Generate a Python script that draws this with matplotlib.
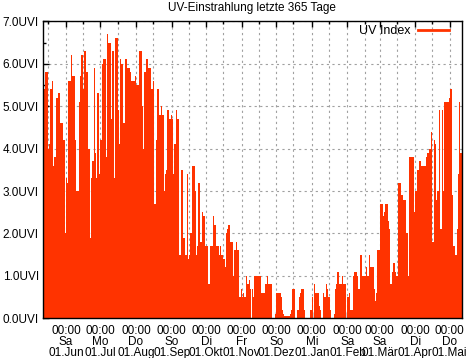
import datetime as dt
import matplotlib
matplotlib.use("Agg")
import matplotlib.pyplot as plt
import matplotlib.dates as mdates
from matplotlib.ticker import MultipleLocator
from matplotlib.lines import Line2D

# daily UV index, 12.05.2024 .. 11.05.2025
uv = [
    0.8, 5.4, 5.8, 5.8, 4.0, 4.1, 5.4, 5.4, 5.6, 3.6, 3.8, 5.2, 5.2, 5.3, 5.3, 4.6, 4.6, 4.2, 4.2, 2.0,
    3.3, 3.2, 5.6, 5.6, 6.2, 5.7, 5.7, 5.7, 4.2, 3.0, 3.0, 5.1, 5.7, 6.2, 6.2, 5.4, 6.3, 5.8, 5.8, 4.0,
    4.0, 1.9, 3.3, 3.7, 5.9, 3.9, 3.3, 5.3, 5.3, 3.4, 4.2, 6.0, 6.1, 6.1, 6.1, 3.8, 6.7, 6.5, 6.5, 4.7,
    6.3, 6.3, 3.3, 6.6, 6.6, 4.9, 4.1, 6.1, 6.0, 6.0, 4.6, 6.1, 6.1, 5.9, 5.9, 5.9, 5.8, 5.6, 5.6, 5.6,
    5.7, 5.5, 5.5, 5.5, 6.3, 6.3, 5.0, 4.0, 5.8, 5.8, 6.1, 5.9, 5.9, 5.9, 5.4, 5.4, 5.6, 2.7, 4.2, 5.4,
    5.4, 4.8, 4.8, 5.0, 4.8, 3.0, 3.4, 3.5, 4.9, 4.9, 4.7, 4.8, 4.7, 3.4, 4.1, 4.1, 4.9, 4.7, 1.5, 1.5,
    3.5, 3.5, 1.9, 1.9, 1.5, 3.4, 1.4, 1.5, 2.0, 2.0, 3.6, 3.6, 3.0, 1.5, 1.7, 3.2, 3.2, 1.8, 2.5, 2.4,
    2.4, 1.7, 1.7, 1.7, 0.8, 1.7, 1.7, 1.7, 2.4, 2.2, 2.2, 1.7, 1.7, 1.5, 1.7, 1.5, 1.5, 1.4, 1.2, 2.0,
    2.1, 2.2, 2.2, 1.8, 1.8, 1.0, 1.6, 1.6, 1.8, 1.6, 1.6, 0.5, 0.7, 0.5, 0.6, 0.5, 0.5, 1.0, 0.8, 0.9,
    0.7, 0.0, 0.7, 0.5, 1.0, 1.0, 1.0, 1.0, 1.0, 1.0, 0.6, 0.6, 0.6, 0.8, 0.8, 1.0, 0.8, 0.8, 0.8, 0.0,
    0.0, 0.0, 0.1, 0.6, 0.6, 0.6, 0.6, 0.5, 0.2, 0.1, 0.05, 0.05, 0.05, 0.05, 0.05, 0.1, 0.2, 0.7, 0.7, 0.0,
    0.0, 0.2, 0.2, 0.5, 0.6, 0.7, 0.7, 0.2, 0.0, 0.0, 0.0, 0.0, 0.2, 0.2, 0.5, 0.0, 0.8, 0.6, 0.6, 0.6,
    0.3, 0.2, 0.0, 0.0, 0.6, 0.5, 0.8, 0.7, 0.5, 0.5, 0.2, 0.0, 0.0, 0.1, 0.7, 0.8, 1.1, 1.1, 0.8, 0.8,
    1.0, 0.8, 0.8, 0.8, 0.0, 0.5, 0.6, 0.2, 0.2, 0.2, 1.0, 1.1, 1.1, 1.0, 0.7, 0.7, 1.5, 1.5, 1.0, 1.0,
    1.0, 1.2, 1.0, 1.0, 1.5, 1.2, 1.2, 1.2, 0.7, 0.4, 0.6, 1.6, 1.6, 2.7, 2.7, 2.7, 2.4, 2.5, 2.7, 2.7,
    2.3, 2.1, 0.8, 0.8, 1.1, 1.3, 1.1, 1.0, 1.0, 3.2, 3.2, 3.2, 2.9, 2.8, 2.8, 2.8, 2.0, 2.0, 1.0, 3.8,
    3.8, 3.8, 3.8, 2.5, 3.0, 3.0, 3.5, 3.7, 3.7, 3.6, 3.6, 3.6, 3.6, 3.8, 3.9, 3.9, 4.0, 4.0, 4.4, 1.8,
    4.2, 4.1, 2.8, 3.0, 3.0, 4.9, 2.1, 4.9, 3.0, 5.1, 5.1, 5.1, 5.1, 5.2, 5.4, 5.4, 2.9, 1.7, 1.7, 1.5,
    2.1, 3.4, 5.1, 3.9, 3.9,
]
start = dt.datetime(2024, 5, 12)
days = [start + dt.timedelta(days=i, hours=12) for i in range(len(uv))]

month_ticks = [dt.datetime(2024, m, 1) for m in range(6, 13)] + [dt.datetime(2025, m, 1) for m in range(1, 6)]
tick_labels = ["00:00\nSa\n01.Jun", "00:00\nMo\n01.Jul", "00:00\nDo\n01.Aug", "00:00\nSo\n01.Sep",
               "00:00\nDi\n01.Okt", "00:00\nFr\n01.Nov", "00:00\nSo\n01.Dez", "00:00\nMi\n01.Jan",
               "00:00\nSa\n01.Feb", "00:00\nSa\n01.Mär", "00:00\nDi\n01.Apr", "00:00\nDo\n01.Mai"]
mid_ticks = [dt.datetime(2024, 5, 16)] + [dt.datetime(2024, m, 16) for m in range(6, 13)] + \
            [dt.datetime(2025, m, 16) for m in range(1, 5)]
y_labels = ["%.1fUVI" % v for v in range(8)]

plt.rcParams['font.family'] = ['Liberation Sans', 'DejaVu Sans']
plt.rcParams['font.size'] = 8.5

fig = plt.figure(figsize=(4.66, 3.58), dpi=100)
ax = fig.add_axes([43 / 466, 1 - 318.3 / 358, 419.3 / 466, 297 / 358])

ax.bar(days, uv, width=1.0, color="#ff3300", linewidth=0, label="UV Index")

ax.set_xlim(start, start + dt.timedelta(days=365))
ax.set_ylim(0, 7)

ax.set_xticks([mdates.date2num(d) for d in month_ticks])
ax.set_xticklabels(tick_labels)
ax.set_xticks([mdates.date2num(d) for d in mid_ticks], minor=True)
ax.set_yticks(range(8))
ax.set_yticklabels(y_labels)
ax.yaxis.set_minor_locator(MultipleLocator(0.5))

ax.tick_params(which="both", direction="in", top=True, right=False, length=4, width=1, pad=3, colors="black")
ax.tick_params(which="minor", length=2)
ax.tick_params(axis="x", which="major", pad=5)
for lbl in ax.get_xticklabels():
    lbl.set_linespacing(0.9)

ax.grid(True, which="major", color="#a0a0a0", linestyle=(0, (2, 3)), linewidth=0.8)
ax.grid(True, which="minor", axis="x", color="#a0a0a0", linestyle=(0, (2, 3)), linewidth=0.8)
ax.set_axisbelow(True)
for s in ax.spines.values():
    s.set_linewidth(1.0)
    s.set_zorder(5)

fig.text(252 / 466, 1 - 1.5 / 358, "UV-Einstrahlung letzte 365 Tage", fontsize=8.5, ha="center", va="top")

h = [Line2D([0], [0], color="#ff3300", lw=2)]
ax.legend(h, ["UV Index"], loc="upper right", frameon=False, markerfirst=False,
          handlelength=2.5, handletextpad=0.6, borderaxespad=0, borderpad=0, fontsize=9,
          bbox_to_anchor=(449 / 466, 1 - 25 / 358), bbox_transform=fig.transFigure)

fig.savefig("out.png", dpi=100)
